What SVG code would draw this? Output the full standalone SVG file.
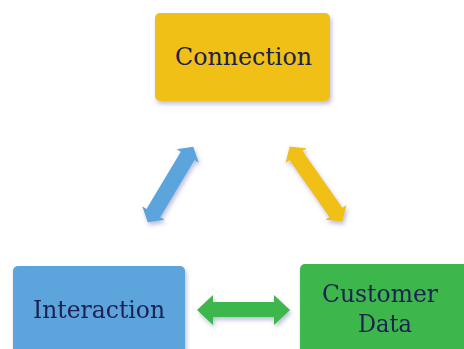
<svg xmlns="http://www.w3.org/2000/svg" width="464" height="349" viewBox="0 0 464 349">
  <style>
    .label { font-family: "DejaVu Serif", "Liberation Serif", serif; font-size: 24px; fill: #1c2052; text-anchor: middle; }
    .yellow { fill: #f0c016; }
    .blue { fill: #5ba4dc; }
    .green { fill: #3db64b; }
  </style>
  <defs>
    <filter id="shadow" x="-20%" y="-20%" width="140%" height="150%">
      <feDropShadow dx="1.5" dy="3" stdDeviation="2" flood-color="#6b6fb0" flood-opacity="0.45"/>
    </filter>
    <!-- double-headed arrow, 90 long, centred on the origin along x -->
    <polygon id="dbl" points="-45,0 -34,-13 -34,-8 34,-8 34,-13 45,0 34,13 34,8 -34,8 -34,13"/>
  </defs>
  <rect width="464" height="349" fill="#ffffff"/>

  <g id="connectors" filter="url(#shadow)">
    <use href="#dbl" class="blue" transform="translate(170.5,184.5) rotate(121) scale(0.98,1)"/>
    <use href="#dbl" class="yellow" transform="translate(316,184) rotate(55) scale(1.02,1)"/>
    <polygon class="green" points="197,310 213,295 213,302 274,302 274,295 290,310 274,325 274,317 213,317 213,325"/>
  </g>

  <g id="connection">
    <rect class="yellow" x="155" y="13" width="175" height="88" rx="5" filter="url(#shadow)"/>
    <text class="label" x="243.5" y="65" textLength="137" lengthAdjust="spacingAndGlyphs">Connection</text>
  </g>

  <g id="interaction">
    <rect class="blue" x="13" y="266" width="172" height="100" rx="5" filter="url(#shadow)"/>
    <text class="label" x="99" y="318" textLength="132" lengthAdjust="spacingAndGlyphs">Interaction</text>
  </g>

  <g id="customer-data">
    <rect class="green" x="300" y="264" width="180" height="100" rx="5" filter="url(#shadow)"/>
    <text class="label" x="380" y="302" textLength="116" lengthAdjust="spacingAndGlyphs">Customer</text>
    <text class="label" x="385" y="332" textLength="54" lengthAdjust="spacingAndGlyphs">Data</text>
  </g>
</svg>
